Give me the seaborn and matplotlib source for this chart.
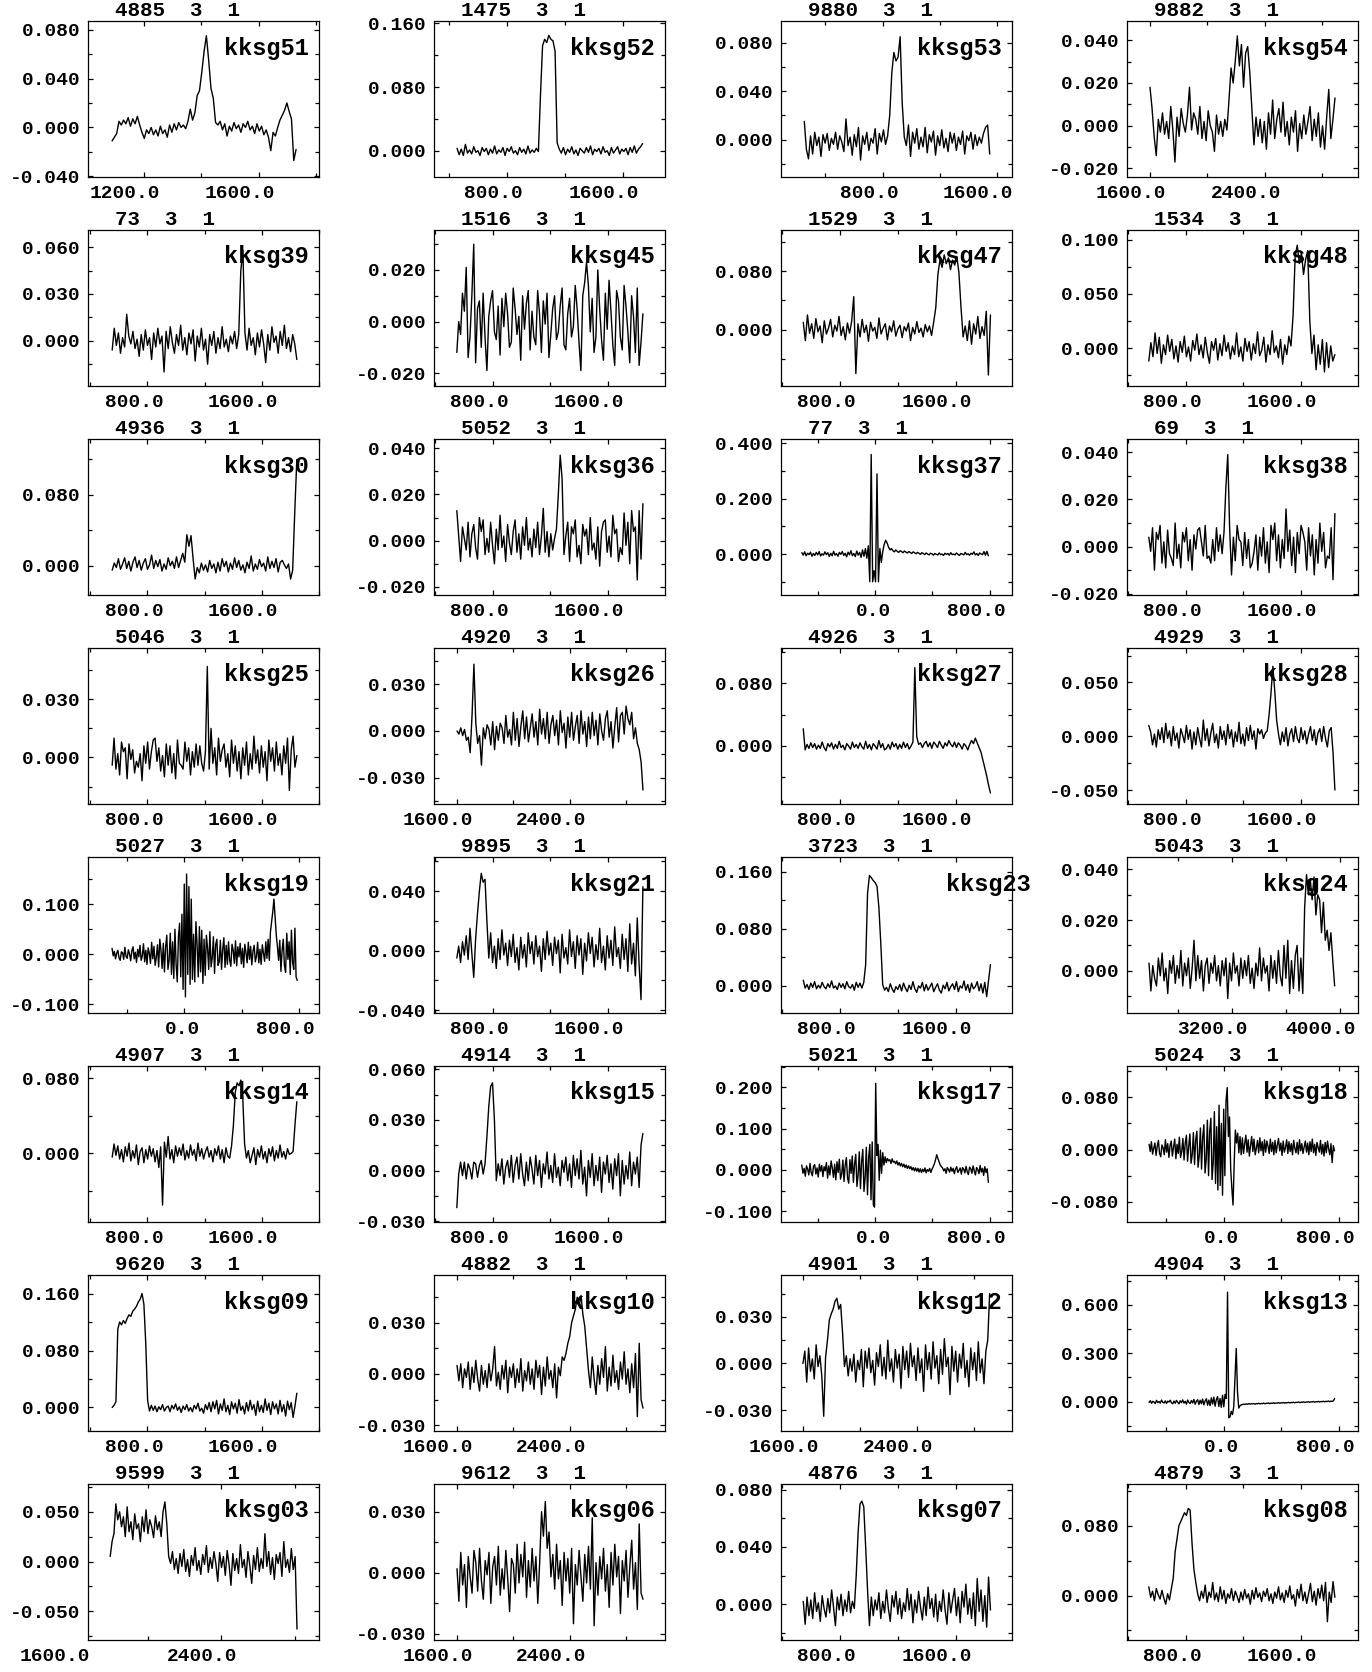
import numpy as np
import matplotlib
matplotlib.use("Agg")
import matplotlib.pyplot as plt
import matplotlib.transforms as mtransforms
from matplotlib.ticker import FixedLocator, FormatStrFormatter
import seaborn as sns

# ---------------- data (antenna temperature in milli-units) -------------
names = ["kksg51", "kksg52", "kksg53", "kksg54",
         "kksg39", "kksg45", "kksg47", "kksg48",
         "kksg30", "kksg36", "kksg37", "kksg38",
         "kksg25", "kksg26", "kksg27", "kksg28",
         "kksg19", "kksg21", "kksg23", "kksg24",
         "kksg14", "kksg15", "kksg17", "kksg18",
         "kksg09", "kksg10", "kksg12", "kksg13",
         "kksg03", "kksg06", "kksg07", "kksg08"]
scan_ids = [4885, 1475, 9880, 9882, 73, 1516, 1529, 1534,
            4936, 5052, 77, 69, 5046, 4920, 4926, 4929,
            5027, 9895, 3723, 5043, 4907, 4914, 5021, 5024,
            9620, 4882, 4901, 4904, 9599, 9612, 4876, 4879]
vel_start = [1088, 459, 252, 1600, 555, 552, 545, 545,
             555, 552, -511, 545, 555, 1600, 545, 545,
             -506, 552, 545, 2585, 555, 552, -511, -516,
             555, 1600, 1600, -516, 1794, 1600, 545, 545]
vel_end = [1730, 1738, 1549, 2887, 1845, 1840, 1840, 1834,
           1845, 1840, 790, 1834, 1845, 2917, 1840, 1834,
           788, 1840, 1840, 3960, 1845, 1840, 790, 769,
           1845, 2917, 2910, 770, 2813, 2917, 1840, 1834]

kksg51 = [-11, -8, -5, 5, 2, 6, 3, 8, 1, 7, 3, 9, 2, -4, -9, -2, -5, 0, -6, -2,
          -7, 1, -5, -2, -8, 2, -4, 3, -2, 4, 0, 2, -1, 5, 15, 6, 12, 26, 30, 45,
          62, 75, 55, 32, 24, 4, 2, 5, -2, 3, -7, 1, -3, 4, -1, 2, -4, 3, 0, 5,
          -2, 1, -5, 3, -3, 1, -6, -2, -8, -19, -4, -7, 0, 6, 10, 14, 20, 13, 7, -27, -18]
kksg52 = [3, -5, 2, -6, 8, -3, 1, -4, 5, -2, 0, -6, 4, -1, 3, -5, 2, -3, 6, -4,
          1, -2, 4, -6, 3, -1, 5, -3, 0, -5, 4, -2, 2, -4, 6, -3, 1, -2, 3, -1,
          70, 132, 140, 136, 145, 140, 138, 125, 10, 2,
          -3, 4, -5, 2, -2, 5, -4, 1, -6, 3, 0, -3, 4, -2, 6, -5, 2, -1, 3, -4,
          5, -2, 0, -6, 4, -3, 1, 5, -4, 2, -1, 3, -5, 4, -2, 6, -3, 2, 5, 9]
kksg53 = [15, -8, -16, 3, -12, 6, -5, 2, -14, 4, -3, 5, -9, 1, -4, 6, -8, 3, -2, -10,
          17, -5, 2, -13, 4, -6, 10, -17, 3, -4, 6, -9, 1, -3, 9, -12, 5, -2, 8, -4, 3,
          20, 55, 72, 65, 68, 85, 30, 2,
          -5, 12, -14, 6, -3, 9, -8, 2, -6, 10, -11, 4, -2, 7, -13, 3, -5, 8, -7, 1,
          -10, 6, -3, 5, -9, 2, -4, 7, -12, 3, -1, 6, -8, 4, -5, 2, -3, 5, 10, 12, -12]
kksg54 = [18, 8, -5, -14, 3, -3, 6, -4, 2, -6, 9, -2, -17, 4, -5, 8, 1, -3, 5, 18,
          -2, 6, 3, -4, 9, -6, 2, -7, 7, 0, -3, -12, 5, -4, 2, -5, 3, -2,
          12, 27, 20, 30, 42, 28, 38, 18, 34, 37, 25, 8, -9,
          4, -5, 3, -8, 2, -11, 6, -4, 12, -6, 3, 8, -3, 11, -5, 2, -9, 4, -3, 7,
          -12, 1, -6, 5, -4, 2, 9, -7, 3, -5, 6, -10, 0, -11, 4, 17, -6, 3, 13]
kksg39 = [-6, 8, -3, 5, -8, 2, -4, 17, 3, -2, 6, -5, 1, -10, 4, -6, 7, -3, 2, -12,
          5, -4, 8, -2, 3, -20, 6, -5, 9, -1, -8, 4, -3, 10, -6, 2, -9, 5, -2, 7,
          -13, 3, -4, 8, -6, 1, -15, 4, -3, 6, -8, 2, -5, 9, -4, 1, -7, 3, -2, 6,
          -5, 4, 45, 58, 5,
          -6, 8, -3, 2, -9, 5, -4, 7, -2, -14, 4, -6, 9, -1, 3, -8, 6, -3, 10, -5,
          2, -7, 4, -2, -12]
kksg45 = [-12, 0, -5, 11, 4, 21, -14, -6, 10, 30, -16, 5, 8, -10, 11, -6, -19, 2, 8, 12,
          -4, -7, 6, -13, 9, -2, 11, 3, -10, -8, 13, 5, -5, 2, -15, 10, -3, 7, 12, -11,
          4, -6, -9, 12, 3, -12, 8, -1, 11, -14, -5, 5, 10, -7, -4, 6, 13, -9, -11, 3,
          9, -6, -2, 14, 5, -8, -19, 10, 15, 23, 14, -4, 9, -12, -6, 20, 5, -7, -15, 11,
          -3, 16, 4, -9, -17, 12, 8, -6, -11, 14, 6, -4, -16, 10, 2, -12, 13, -17, -8, 3]
kksg47 = [10, -15, 20, -5, 8, -12, 15, -3, 5, -18, 12, -6, 2, 14, -10, 6, -2, 18, -8, 4,
          -14, 9, -5, 11, 45, -60, 8, -10, 14, -4, 6, -16, 10, -2, 3, -12, 16, -6, 2, 8,
          -14, 5, -3, 12, -9, 1, 6, -11, 4, -2, 9, -15, 3, -6, 11, -4, 2, -10, 7, -3,
          5, -8, 10,
          30, 75, 95, 85, 102, 90, 98, 82, 95, 88, 100, 78, 30, -10,
          5, -15, 12, -20, 8, -6, 18, -12, 4, -8, 25, -62, 20]
kksg48 = [-12, 5, -8, 14, -5, 10, -14, 3, -6, 12, -3, 8, -10, 2, -13, 6, -4, 11, -8, 1,
          -12, 7, -2, 13, -6, 3, -9, 10, -4, -14, 6, -2, 9, -11, 4, -7, 12, -3, 5, -10,
          2, -6, 14, -8, 1, -12, 9, -3, 6, -11, 4, -5, 15, -7, -2, 10, -13, 3, -6, 16,
          -4, 2, -9, 8, -15, 3, -6, 11, 2,
          30, 85, 95, 78, 88, 68, 82, 90, 25,
          -5, 12, -20, 3, -15, 8, -22, 5, -18, 2, -12, -6]
kksg30 = [-5, 3, -2, 8, -4, 2, 9, -3, 5, -6, 4, 10, -2, 6, -5, 3, 8, -4, 1, 12,
          -3, 6, -1, 7, -6, 2, -4, 9, 0, 5, -3, 10, -2, 6, 14, 4,
          35, 22, 34, 8, -15,
          -2, -8, 3, -5, 1, -7, 6, -3, 2, -8, 4, -6, 8, -1, 5, -7, 3, -4, 9, -2,
          6, -5, 1, -8, 4, -3, 11, -6, 2, -4, 7, -1, 3, -6, 10, -3, 5, -2, 8, -7,
          4, 6, 1, -3, 2, -15, -5, 60, 120]
kksg36 = [13, 2, -9, 6, 1, -4, 8, -7, 3, 7, -3, -8, 10, 4, 9, -6, 1, -5, 8, -2,
          -10, 5, -4, 11, -3, 2, -9, 7, -1, -6, 4, 9, -5, 3, -8, 6, -2, 10, -4, 1,
          -7, 5, -3, 8, -6, 2, 14, -5, 4, -7, 3, -4, 1, 5, 20, 37, 27, -6, 2, 8,
          -9, 6, 3, 9, -7, -2, -10, 7, 2, 5, -6, 10, -4, -1, -8, 6, -11, 4, 8, 9,
          -5, 2, -7, 11, 3, 5, -9, -3, -6, 12, -2, 8, -10, 13, 4, 6, -17, 13, -8, 16]
kksg37 = [5, -4, 8, -6, 3, -2, 7, -8, 2, -5, 6, -3, 9, -7, 1, -4, 8, -2, 5, -9,
          3, -6, 10, -4, 2, -8, 6, -1, 9, -5, 3, -10, 7, -3, 12, -6, 2, -9, 11, -4,
          6, -12, 15, -8,
          20, -15, 30, -100, 360, -100, -60, -100, 290, -100, 20, -30, 10,
          35, 50, 40, 25, 15, 20,
          12, 8, 15, 10, 6, 12, 9, 5, 11, 7, 4, 9, 6, 2, 8, 5, 1, 6, 3, -1,
          5, 2, -2, 4, 0, -3, 3, 1, -4, 2, -1, -3, 4, -2, 0, -5, 3, -1, 2, -4,
          5, -2, 0, -3, 4, -1, -5, 2, 0, -3, 6, -2, 1, -4, 3, -1, 8, -3, 2, -5,
          4, 0, -2, 9, -4, 10, -6]
kksg38 = [4, -2, 8, -10, 6, 3, 9, -7, 2, -9, 7, -3, -5, -8, 10, -5, 1, -9, 6, 2,
          8, -6, 3, -10, 5, -1, 7, 8, 2, -4, 9, -5, -4, -7, 3, -6, 8, -2, 5, -3,
          6, 25, 39, 8, -12, 4, -6, 9, 3, 2, -8, 6, -5, 3, -9, -7, -2, 5, -10, 4,
          -4, 8, -7, 2, -11, 9, 3, 10, -6, 5, -9, 3, -5, 16, -2, 7, -8, 4, -11, 6,
          -3, 9, 6, 2, -10, 8, -4, 5, -12, 3, -7, 10, -2, 6, -9, -4, -5, 8, -14, 14]
kksg25 = [-4, 10, -6, 2, -9, 8, 3, 5, -11, 7, -1, 4, -8, -2, -5, 2, -12, 6, -3, 8,
          -6, 3, 9, 10, -2, 5, -7, 1, -10, 7, -4, 6, -8, 2, -11, 9, -3, -4, -6, 8,
          -2, 5, -9, 3, -5, 7, -4, 6, -3, -7, 3, 47, -6, 15, -3, 5, -9, 10, -2, 4,
          7, -5, 2, -10, 9, -3, 6, -7, 3, -11, 5, -4, 8, -9, 2, -6, 11, -3, 4, -8,
          6, -5, 3, -12, 9, -2, 5, -7, 8, -4, 2, -9, 6, -3, 10, -17, 4, 11, -5, 1]
kksg26 = [0, -2, 2, -3, 1, -6, -4, -14, 10, 43, 5, -8, -3, -22, 2, -5, 4, 1, -9, 6,
          -12, 3, -6, 5, 2, -8, 10, -4, 1, -9, 12, -6, 8, -10, 3, 13, -5, 9, -7, 2,
          11, -4, 6, -9, 14, -2, 8, -5, 12, -8, 4, 10, -3, 7, -9, 13, -1, 5, -11, 9,
          -4, 12, -6, 3, 10, -8, 13, -2, 6, -10, 9, -5, 12, -3, 7, -9, 11, 0, -6, 8,
          13, -4, 6, -11, 3, 15, -7, 10, 12, -2, 16, 8, 4, 12, -5, 2, -8, -12, -20, -38]
kksg27 = [22, -5, 2, -3, 4, -2, 3, -4, 1, -3, 5, -2, -6, 3, -1, 4, -4, 2, -3, 6,
          -2, 1, -5, 3, 0, -4, 5, -2, 2, -3, 4, -1, -4, 6, -3, 2, -5, 3, 0, -4,
          7, -2, 3, -5, -3, 2, -4, 5, -1, 3, -4, 2, -3, 5, -2, 3, -4, 0, 5, 100,
          12, 2, 4, -2, 3, 6, -1, 4, -3, 5, 2, -2, 6, 1, -3, 4, 0, 7, 2, -1,
          5, -2, 4, 1, -4, 3, 0, -5, 2, 7, 3, 10, 4, -2, -8, -18, -28, -38, -50, -60]
kksg28 = [10, 4, -8, 2, -10, 6, -3, 8, -6, 12, -2, 5, -9, 9, -4, 3, -11, 7, 1, -6,
          10, -3, 6, -12, 4, -8, 8, -2, -10, 15, -4, 7, -9, 3, 12, -6, 2, -11, 9, -3,
          5, -8, 11, -2, 6, -10, 4, -5, 13, -7, 2, -9, 8, -4, 10, -3, 5, -12, 7, 2,
          6, -2, 3, 5, 20, 40, 65, 42, 15, 2, -8, 4, -5, 8, -9, 2, 7, -5, 9, -2,
          -6, 8, -3, 5, -7, 2, 9, -4, 6, -8, 3, 7, -5, 9, -2, -10, 5, 8, -15, -50]
kksg19 = [12, -3, 6, -9, 2, 8, -7, -12, 5, 3, -10, 14, -4, -8, 9, 1, -13, 7, 15, -9,
          4, -16, 10, -5, 18, -12, -3, 21, -15, 8, -20, 13, 2, -18, 24, -9, 16, -22, -6, 19,
          -25, 30, 8, -28, 22, -35, 15, 38, -30, -12, 42, -40, 25, -48, 50, -20, -55, 35, 62, -45,
          80, -70, 140, -85, 160, -40, 135, -60, 110, -50, 40, -55, 65, 20, -45, 55, -35, 48, -58, 30,
          -42, 38, 12, -30, 45, -25, -8, 35, -38, 20, 30, -22, -15, 28, -30, 10, 33, -26, 18, -20,
          25, -12, -24, 20, 8, -18, 27, -23, 15, -5, 22, -19, 12, -26, 20, 3, -17, 24, -10, 16,
          -21, 6, 18, -15, -4, 24, -17, 10, -20, 19, 2, -14, 25, -8, 30, -12, 45, 65, 85, 110,
          75, 38, 15, -12, 28, -34, 8, 30, -22, -36, 42, -10, 25, -40, 48, -15, -30, 52, -45, -52]
kksg21 = [-5, 3, -8, 6, -3, 10, -6, 15, -2, -18, 8, 25, 40, 52, 46, 48, 20, -5, 12, -8,
          3, -12, 8, -6, 14, -3, 5, -10, 7, -4, 11, -8, 2, -13, 9, -5, 4, -11, 12, -2,
          6, -9, 10, -4, 3, -14, 8, -6, 13, -3, 5, -10, 9, -2, 7, -15, 11, -5, 2, -9,
          14, -4, 6, -12, 10, -3, 8, -16, 5, -7, 12, -2, 9, -11, 4, -6, 15, -8, 3, -13,
          10, -5, 7, -10, 16, -4, 2, -12, 11, -6, 8, -14, 18, -9, 5, -17, 22, -10, -33, 43]
kksg23 = [8, -3, 2, -5, 4, -2, 6, -4, 1, -3, 5, -1, -4, 3, -2, 7, -3, 0, -5, 4,
          -2, 3, -4, 6, -1, -3, 2, -6, 5, -2, 4, -3, 5, 30, 130, 155, 152, 148, 145, 140,
          110, 60, 2, -6, -2, -8, 3, -4, -9, -1, -5, 2, -7, 4, -3, -8, 1, -5, 6, -4,
          -9, 0, -3, 5, -7, 2, -6, -1, 4, -8, -2, 3, -6, -10, 1, -4, 5, -7, -1, 3,
          -5, 6, -8, 0, -3, 7, -6, 2, -9, 4, -4, -1, 6, -7, 3, -10, 5, -15, 8, 30]
kksg24 = [3, -8, 2, -3, -6, 5, -2, 7, -4, 1, -9, 4, -1, 6, -5, 2, -3, 8, -6, 3,
          -2, 5, -7, 1, 12, -4, 6, -3, 4, -8, 2, 5, -5, 3, -1, 6, -4, 2, -6, 4,
          -2, 5, -11, 3, -4, 7, -1, 2, -6, 5, -3, 4, -2, 6, -5, 1, -7, 3, -2, 9,
          -4, 5, -1, 2, -8, 6, -3, 4, -5, 8, -2, -6, 10, -3, 12, -9, 4, -7, 6, 10,
          -8, 5, -9, 25, 38, 30, 36, 28, 37, 22, 30, 28, 15, 27, 12, 16, 8, 15, 4, -6]
kksg14 = [-4, 10, -2, 8, -6, 4, -9, 7, -3, 11, -8, 3, -5, 9, -12, 2, 6, -10, 4, -6,
          8, -3, 5, -9, 3, -15, 7, -55, 12, -4, 18, -6, 4, -10, 8, -3, 6, -2, 10, -7,
          3, -5, 9, -2, 4, -8, 11, -3, 5, -6, 2, 7, -4, 3, -9, 5, -2, 8, -6, 4,
          -10, 6, -3, -5, 8, 30, 65, 75, 72, 78, 60, 10, -5, 3, -10, -2, 6, -12, 4, -4,
          8, -6, 2, -10, 5, -3, 7, -8, 3, -5, 9, -4, 2, -6, 5, -1, 0, 2, 30, 55]
kksg15 = [-22, -2, 5, -3, 5, -5, 4, 1, -5, 5, 4, -4, 3, 6, -2, 4, 20, 38, 50, 52,
          30, -6, 4, -3, 7, -8, 2, 6, -4, 9, -7, 3, 8, -5, 10, -2, -9, 5, -6, 8,
          1, -8, 9, -3, 6, -10, 4, -2, 11, -5, 3, -7, 10, -4, 2, -9, 6, -1, 8, -6,
          4, -10, 9, -3, 7, -5, 12, -8, 2, -15, 6, -4, 10, -9, 3, -6, 8, -13, 5, -2,
          9, -7, 4, -11, 7, -3, 10, -15, 6, -8, 3, -5, 11, -9, 5, -2, 8, -10, 15, 22]
kksg17 = [12, -8, 4, -15, 10, 2, -12, 16, -6, -14, 9, 13, -10, 5, -17, 14, -3, 11, -16, 8,
          -2, 18, -20, 10, -12, 22, 5, -18, 14, -24, 20, -6, 26, -22, -10, 24, -28, 12, 30, -20,
          -32, 25, -8, 34, -30, 15, 38, -40, -12, 44, -45, 20, 50, -52, -18, 55, -60, 30, 62, -72,
          68, -85, -90, 210, 35, 62, -25, 48, -8, 42, 12, 32, 18, 28, 22, 25, 16, 27, 19, 21,
          15, 22, 12, 18, 10, 16, 8, 14, 6, 12, 4, 10, 3, 8, 0, 6, -2, 5, -3, 4,
          -5, 3, -6, 2, -4, 5, -7, 1, -3, 4, -6, 2, 8, 15, 25, 37, 28, 20, 12, 8,
          5, -2, 3, -8, 6, 1, -5, 7, -3, 4, -9, 2, 8, -6, -1, 5, -10, 6, 2, -7,
          9, -4, -11, 7, 3, -8, 10, -2, -12, 6, 1, -9, 11, -5, 4, -13, 8, -6, 3, -30]
kksg18 = [8, -3, 12, -7, 2, 10, -9, 5, 14, -6, -11, 7, 3, -8, 15, -4, 9, -12, 6, 13,
          -10, 4, 16, -14, 8, -6, 19, -12, -3, 17, -16, 10, 22, -18, 5, 24, -21, -8, 26, -23,
          15, 28, -27, -10, 33, -30, 20, 38, -36, -15, 45, -40, 28, 48, -46, -20, 58, -52, 35, -62,
          68, -55, 40, -70, 62, -40, 75, 95, 20, 50, -30, -60, -85, -20, 30, 10, 25, -5, 20, -8,
          18, -6, 9, 22, -4, 15, -10, 6, 20, -3, 16, -8, 2, 14, -5, 18, -2, 12, -9, 15,
          -4, 13, 5, -6, 16, -3, 11, -8, 14, -5, 7, 17, -2, 10, -9, 13, -4, 3, 15, -6,
          12, -3, 9, -8, 14, 2, -5, 11, -7, 15, -2, 9, -6, 4, 13, -4, 10, -8, 12, -3,
          16, -5, 8, -9, 11, 3, -4, 14, -7, 8, -10, 11, -5, 13, 1, -8, 9, -20, 6, -2]
kksg09 = [0, 3, 8, 110, 120, 116, 122, 118, 125, 130, 128, 135, 138, 142, 148, 152, 160, 145, 90, 10,
          -5, 3, -4, 2, -6, 1, -3, 4, -5, 0, 2, -6, 3, -2, 5, -4, 1, -7, 2, -3,
          4, -5, 0, -6, 3, -2, 6, -5, -1, -8, 4, -3, 7, -6, 8, -2, 10, -9, 5, -4,
          12, -6, 3, -10, 8, -2, 6, -8, 11, -4, 2, -9, 7, -5, 10, -3, 4, -11, 9, -6,
          3, -7, 12, -4, 6, -10, 8, -2, 5, -9, 10, -6, 4, -12, 9, -3, 7, -14, 2, 20]
kksg10 = [5, -4, 6, -8, 3, -2, 7, -9, 4, -5, 8, -3, -10, 5, -6, 2, -8, 6, -4, 3,
          16, -7, 1, -9, 5, -3, 8, -11, 4, -2, 6, -8, 3, -5, 9, -10, 2, -4, 7, -6,
          3, -9, 8, -2, 5, -12, 4, -7, 10, -3, 2, -8, 6, -14, 4, -1, 10, 8, 12, 18,
          22, 30, 34, 38, 45, 40, 46, 35, 28, 15, 2, -8, 10, -3, -12, 5, -6, 9, -2, 16,
          -10, 4, -7, 11, -5, 2, -9, 7, -3, 13, -6, 3, -11, 6, -8, 12, -25, 18, -15, -20]
kksg12 = [0, 8, -12, 10, -5, 3, -10, 12, -2, 5, -8, -34, 4, 15, 28, 32, 35, 40, 42, 35,
          38, 20, -2, 5, -8, 3, -5, 6, -12, 2, -4, 9, -15, 8, -3, 10, -6, 2, -14, 7,
          -2, 12, -8, 4, -10, 15, -5, 3, -12, 9, -3, 6, -16, 11, -4, 8, -9, 13, -2, 5,
          -11, 10, -6, 3, -18, 12, -4, 7, -10, 14, -3, 5, -13, 9, -7, 16, -2, 4, -20, 11,
          -5, 8, -12, 6, -3, 13, -9, 2, -15, 10, -4, 7, -11, 14, -6, 3, -13, 8, 15, 45]
kksg13 = [-5, 6, -10, 2, -3, -12, 8, -6, 1, -9, 10, -4, -8, 5, -11, 3, -2, 9, -7, -13,
          4, -10, 8, -3, -14, 6, -6, 11, -9, 2, -15, 10, -4, -12, 7, -8, 14, -16, 3, 12,
          -18, 9, -13, 16, -20, 4, 18, -22, 10, -25, 24, -15, 28, -28, 12, 32, -30, 20, -35, 40,
          -32, 45, 20, 680, -100, -95, -60, -80, -30, 150, 330, 60, -40, -25, -20, -18, -15, -17, -14, -16,
          -12, -15, -13, -14, -11, -16, -12, -13, -10, -14, -11, -12, -9, -13, -10, -11, -8, -12, -9, -10,
          -7, -11, -8, -9, -6, -10, -7, -8, -5, -9, -6, -7, -4, -8, -5, -6, -3, -7, -4, -5,
          -2, -6, -3, -4, -1, -5, -2, -3, 0, -4, -1, -2, 1, -3, 0, -1, 2, -2, 1, 0,
          3, -1, 2, 1, 4, 0, 3, 2, 5, 20]
kksg03 = [5, 20, 28, 58, 42, 50, 35, 45, 25, 55, 30, 40, 22, 48, 33, 38, 20, 45, 30, 52,
          28, 42, 35, 24, 46, 32, 40, 25, 50, 60, 38, 5, -2, 10, -8, 3, -12, 8, -5, 12,
          -10, 2, -15, 6, -4, 14, -9, 1, -13, 7, -3, 16, -11, 4, -7, 10, -2, -20, 9, -6,
          5, -14, 11, -3, -24, 8, -9, 3, -12, 17, -6, 2, -16, 10, -4, -22, 6, -8, 14, -10,
          3, -7, 28, -5, 10, -13, 4, -18, 7, -2, 9, -15, 20, -6, 2, -11, 13, -8, 5, -68]
kksg06 = [2, -14, 10, -6, 4, -17, 8, -2, -10, 11, 5, -9, 12, -4, -13, 6, -1, 10, -15, 3,
          8, -6, 13, -11, 2, -8, 11, -3, -19, 7, 4, -10, 14, -5, 9, -2, 15, -12, 6, -7,
          12, -4, 8, -15, 5, 30, 18, 35, 12, 20, -2, 9, -8, 14, -3, 6, -16, 10, -4, 7,
          -10, 12, -25, 4, -6, 11, -2, -14, 9, -5, 13, -8, 27, -26, 5, -11, 8, -3, 12, -9,
          4, -17, 10, -6, 14, -2, 8, -20, 6, -4, 11, -12, 3, 16, -8, 5, -18, 24, -10, -13]
kksg07 = [2, -14, 5, -8, 3, -10, 8, -5, 1, -12, 6, -3, -9, 4, -6, 10, -2, -15, 5, -4,
          7, -8, 3, -5, 9, -6, 2, -3, 20, 50, 70, 72, 68, 40, 10, -15, 5, -8, 3, -4,
          8, -10, 2, -6, 10, -3, -12, 6, -2, 9, -7, 4, -10, 1, -5, 11, -4, 7, -13, 3,
          -6, 9, -2, -11, 5, -8, 12, -3, 4, -9, 7, -12, 2, -5, 10, -4, -14, 8, -6, 3,
          11, -8, 5, -13, 9, -2, 14, -7, 4, -10, 8, -15, 18, -5, 10, -12, 6, -16, 19, -4]
kksg08 = [10, -2, 5, -6, 8, 1, -4, 6, -3, -10, 2, -5, 8, 20, 50, 65, 80, 85, 90, 95,
          92, 100, 98, 60, 30, 15, 2, -6, 5, -3, 12, -8, 4, -2, 15, -5, 3, -7, 10, -4,
          6, -9, 2, -3, 8, -6, 5, -1, -8, 4, -5, 7, -3, 2, -10, 6, -4, 9, -2, 3,
          -7, 5, -1, 8, -6, 2, -9, 4, -3, 10, -5, 3, -8, 6, -2, 11, -4, 1, -12, 7,
          -3, 13, -6, 4, -9, 2, 14, -7, 5, -11, 8, -3, 12, -6, 15, -30, 4, -8, 16, -2]

spectra = {"kksg51": kksg51, "kksg52": kksg52, "kksg53": kksg53, "kksg54": kksg54,
           "kksg39": kksg39, "kksg45": kksg45, "kksg47": kksg47, "kksg48": kksg48,
           "kksg30": kksg30, "kksg36": kksg36, "kksg37": kksg37, "kksg38": kksg38,
           "kksg25": kksg25, "kksg26": kksg26, "kksg27": kksg27, "kksg28": kksg28,
           "kksg19": kksg19, "kksg21": kksg21, "kksg23": kksg23, "kksg24": kksg24,
           "kksg14": kksg14, "kksg15": kksg15, "kksg17": kksg17, "kksg18": kksg18,
           "kksg09": kksg09, "kksg10": kksg10, "kksg12": kksg12, "kksg13": kksg13,
           "kksg03": kksg03, "kksg06": kksg06, "kksg07": kksg07, "kksg08": kksg08}

# ---------------- axes ranges / tick steps ----------------
xlims = [(1004, 1810), (300, 1892), (89, 1705), (1440, 3047),
         (386, 2000), (394, 1993), (391, 1989), (394, 1994),
         (386, 2000), (394, 1993), (-656, 955), (394, 1994),
         (386, 2000), (1437, 3073), (391, 1989), (394, 1994),
         (-674, 940), (394, 1993), (391, 1989), (2422, 4133),
         (386, 2000), (394, 1993), (-656, 955), (-669, 932),
         (386, 2000), (1437, 3073), (1446, 3067), (-669, 932),
         (1673, 2933), (1437, 3073), (391, 1989), (394, 1994)]
xsteps = [400] + [800] * 31
ylims = [(-0.0405, 0.087), (-0.033, 0.163), (-0.031, 0.098), (-0.024, 0.049),
         (-0.029, 0.071), (-0.025, 0.0355), (-0.077, 0.136), (-0.035, 0.109),
         (-0.033, 0.143), (-0.0235, 0.044), (-0.148, 0.416), (-0.0205, 0.0456),
         (-0.024, 0.0565), (-0.047, 0.0534), (-0.074, 0.125), (-0.063, 0.082),
         (-0.117, 0.194), (-0.042, 0.063), (-0.038, 0.181), (-0.0167, 0.0449),
         (-0.073, 0.093), (-0.0305, 0.062), (-0.126, 0.252), (-0.111, 0.128),
         (-0.033, 0.186), (-0.0334, 0.058), (-0.0435, 0.057), (-0.182, 0.786),
         (-0.079, 0.078), (-0.033, 0.0436), (-0.025, 0.084), (-0.051, 0.128)]
ysteps = [0.04, 0.08, 0.04, 0.02,
          0.03, 0.02, 0.08, 0.05,
          0.08, 0.02, 0.2, 0.02,
          0.03, 0.03, 0.08, 0.05,
          0.1, 0.04, 0.08, 0.02,
          0.08, 0.03, 0.1, 0.08,
          0.08, 0.03, 0.03, 0.3,
          0.05, 0.03, 0.04, 0.08]
title_shift = {"kksg23": 29}
# labels that the original prints for ticks just outside the frame
extra_xlabels = {"kksg03": [1600]}


def multiples(lo, hi, step):
    k0 = int(np.ceil(lo / step - 1e-6))
    k1 = int(np.floor(hi / step + 1e-6))
    return [round(k * step, 6) for k in range(k0, k1 + 1)]


# ---------------- style ----------------
sns.set_theme(style="ticks")
plt.rcParams["font.family"] = ["Liberation Mono", "DejaVu Sans"]
plt.rcParams["font.weight"] = "bold"
plt.rcParams["axes.unicode_minus"] = False

FW, FH = 1372, 1672
fig = plt.figure(figsize=(FW / 100, FH / 100), dpi=100)
fig.patch.set_facecolor("white")

LEFTS = [88, 434, 781, 1127]
TOP0, ROWSTEP = 21, 209
W, H = 231, 156
xoff = mtransforms.ScaledTranslation(16 / 100, 0, fig.dpi_scale_trans)
xoff_extra = mtransforms.ScaledTranslation(16 / 100, -6 / 72, fig.dpi_scale_trans)

for i, name in enumerate(names):
    r, c = divmod(i, 4)
    top = TOP0 + ROWSTEP * r
    ax = fig.add_axes([LEFTS[c] / FW, 1 - (top + H) / FH, W / FW, H / FH])
    ax.set_facecolor("white")
    y = np.asarray(spectra[name], dtype=float) * 1e-3
    x = np.linspace(vel_start[i], vel_end[i], len(y))
    sns.lineplot(x=x, y=y, ax=ax, color="black", linewidth=1.0,
                 estimator=None, sort=False)
    ax.set_xlim(*xlims[i])
    ax.set_ylim(*ylims[i])
    ax.set_xlabel("")
    ax.set_ylabel("")

    xs, ys = xsteps[i], ysteps[i]
    ax.xaxis.set_major_locator(FixedLocator(multiples(*xlims[i], xs)))
    ax.xaxis.set_minor_locator(FixedLocator(multiples(*xlims[i], xs / 2)))
    ax.yaxis.set_major_locator(FixedLocator(multiples(*ylims[i], ys)))
    ax.yaxis.set_minor_locator(FixedLocator(multiples(*ylims[i], ys / 2)))
    ax.xaxis.set_major_formatter(FormatStrFormatter("%.1f"))
    ax.yaxis.set_major_formatter(FormatStrFormatter("%.3f"))

    ax.tick_params(which="both", direction="in", top=True, right=True,
                   width=0.9, color="black", labelsize=14, labelcolor="black")
    ax.tick_params(which="major", length=3.6)
    ax.tick_params(which="minor", length=2.8)
    ax.tick_params(axis="y", which="major", pad=5.5)
    ax.tick_params(axis="x", which="major", pad=6)
    for sp in ax.spines.values():
        sp.set_visible(True)
        sp.set_linewidth(0.9)
        sp.set_color("black")

    for lab in ax.get_xticklabels():
        lab.set_horizontalalignment("right")
        lab.set_transform(lab.get_transform() + xoff)

    for v in extra_xlabels.get(name, []):
        trans = mtransforms.blended_transform_factory(ax.transData, ax.transAxes) + xoff_extra
        ax.text(v, 0, "%.1f" % v, transform=trans, ha="right", va="top",
                fontsize=14, fontweight="bold", color="black", clip_on=False)

    ax.text(27 / W, 1 + 5 / H, f"{scan_ids[i]}  3  1", transform=ax.transAxes,
            ha="left", va="baseline", fontsize=15, fontweight="bold", color="black")
    ax.text(1 - (10 - title_shift.get(name, 0)) / W, 1 - 27 / H, name,
            transform=ax.transAxes, ha="right", va="center", fontsize=17,
            fontweight="bold", color="black", clip_on=False)

fig.savefig("out.png", dpi=100, facecolor="white")
